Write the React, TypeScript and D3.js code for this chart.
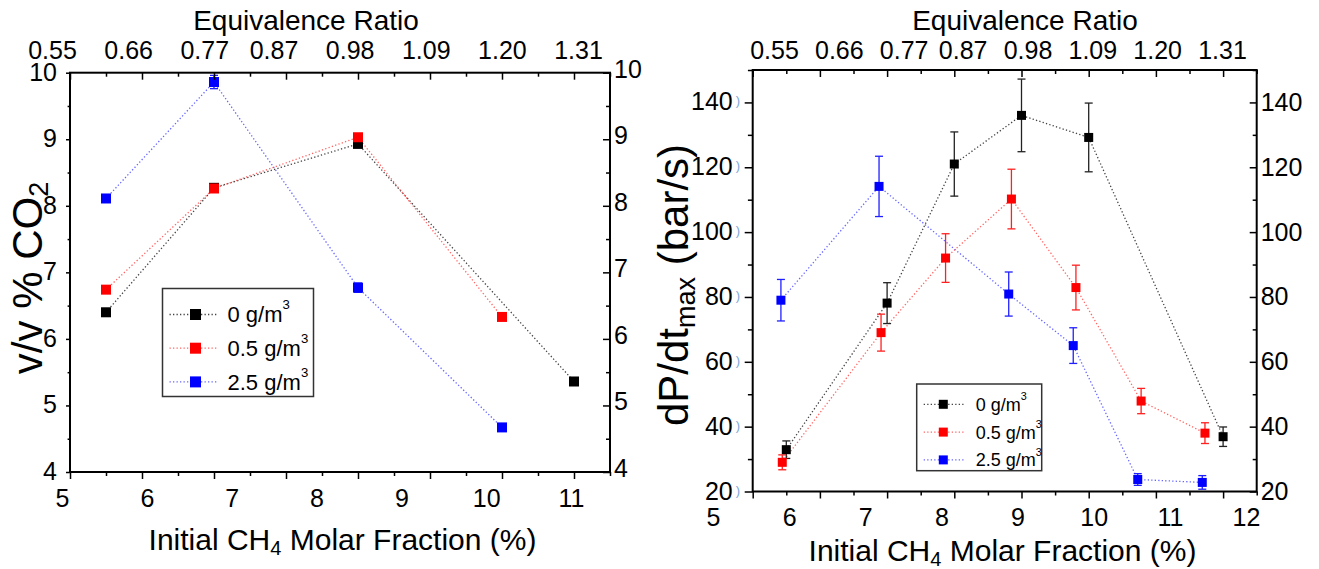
import React, { useEffect, useRef } from "react";
import * as d3 from "d3";

// ---------- data ----------
// x positions are in the tick-grid units of each panel (majors every 1, minors every 0.5)
const leftX_0 = [5.5, 7.0, 9.0, 12.0];
const leftCO2_0 = [6.40, 8.27, 8.93, 5.36];
const leftErr_0 = [0.02, 0.04, 0.03, 0.02];
const leftX_05 = [5.5, 7.0, 9.0, 11.0];
const leftCO2_05 = [6.74, 8.26, 9.03, 6.33];
const leftErr_05 = [0.02, 0.03, 0.04, 0.02];
const leftX_25 = [5.5, 7.0, 9.0, 11.0];
const leftCO2_25 = [8.11, 9.86, 6.77, 4.67];
const leftErr_25 = [0.03, 0.1, 0.07, 0.02];

const rightX_0 = [5.5, 7.0, 8.0, 9.0, 10.0, 12.0];
const rightP_0 = [32.9, 78.1, 121.0, 136.0, 129.2, 36.9];
const rightErr_0 = [2.7, 6.3, 9.9, 11.2, 10.6, 3.0];
const rightX_05 = [5.44, 6.91, 7.87, 8.85, 9.81, 10.78, 11.73];
const rightP_05 = [29.0, 69.0, 92.0, 110.2, 82.9, 47.9, 38.0];
const rightErr_05 = [2.3, 5.7, 7.5, 9.2, 6.9, 3.9, 3.2];
const rightX_25 = [5.42, 6.88, 8.81, 9.77, 10.73, 11.69];
const rightP_25 = [79.0, 114.1, 80.9, 65.0, 23.7, 22.8];
const rightErr_25 = [6.4, 9.3, 6.8, 5.5, 1.8, 2.1];

const seriesNames = ["0 g/m", "0.5 g/m", "2.5 g/m"];
const markerColors = ["#000000", "#ff0000", "#0000ff"];
const lineColors = ["#444444", "#ff6666", "#6666ff"];
const barColors = ["#222222", "#ff2020", "#2020ff"];

const bottomLabelsLeft = [5, 6, 7, 8, 9, 10, 11];
const bottomLabelsRight = [5, 6, 7, 8, 9, 10, 11, 12];
const phiLabels = [0.55, 0.66, 0.77, 0.87, 0.98, 1.09, 1.2, 1.31];
const leftYTicks = [4, 5, 6, 7, 8, 9, 10];
const rightYTicks = [20, 40, 60, 80, 100, 120, 140];

const FONT = "'Liberation Sans', Arial, Helvetica, sans-serif";

type Series = { x: number[]; y: number[]; e: number[] };

const leftSeries: Series[] = [
  { x: leftX_0, y: leftCO2_0, e: leftErr_0 },
  { x: leftX_05, y: leftCO2_05, e: leftErr_05 },
  { x: leftX_25, y: leftCO2_25, e: leftErr_25 },
];
const rightSeries: Series[] = [
  { x: rightX_0, y: rightP_0, e: rightErr_0 },
  { x: rightX_05, y: rightP_05, e: rightErr_05 },
  { x: rightX_25, y: rightP_25, e: rightErr_25 },
];

const panels = [
  {
    id: "L",
    x: d3.scaleLinear().domain([5, 12.5]).range([70, 610]),
    y: d3.scaleLinear().domain([4, 10]).range([472, 72.7]),
    xLab: d3.scaleLinear().domain([5, 11]).range([62, 571]),
    phi: d3.scaleLinear().domain([0.55, 1.31]).range([52, 578]),
    bottomLabels: bottomLabelsLeft,
    yTicks: leftYTicks,
    yMinor: d3.range(4.5, 10, 1),
    series: leftSeries,
    marker: 10,
    leftTick: 4,
    leftPad: 9,
    bottomLabelTop: 489,
    titleY: 550,
    legend: { x: 162.5, y: 288.5, w: 151, h: 108, row0: 26, rowGap: 33.7, fs: 22, mk: 11 },
    ylabelX: 42,
    ylabelY: 278,
  },
  {
    id: "R",
    x: d3.scaleLinear().domain([5, 12.5]).range([752.7, 1256.7]),
    y: d3.scaleLinear().domain([20, 150]).range([491.5, 70]),
    xLab: d3.scaleLinear().domain([5, 12]).range([713, 1246]),
    phi: d3.scaleLinear().domain([0.55, 1.31]).range([774, 1222]),
    bottomLabels: bottomLabelsRight,
    yTicks: rightYTicks,
    yMinor: d3.range(30, 151, 20),
    series: rightSeries,
    marker: 9,
    leftTick: 8,
    leftPad: 12,
    bottomLabelTop: 508,
    titleY: 561,
    legend: { x: 916.7, y: 384, w: 125, h: 86.7, row0: 20.3, rowGap: 27.8, fs: 18, mk: 9 },
    ylabelX: 688,
    ylabelY: 285,
  },
];

function drawAxes(svg: SVGSVGElement) {
  const root = d3.select(svg).select("g.axes");
  root.selectAll("*").remove();
  panels.forEach((p) => {
    const g = root.append("g");
    const [xl, xr] = p.x.range();
    const [yb, yt] = p.y.range();
    const major = d3.range(5, 12.01, 1);
    const minor = d3.range(5.5, 12.51, 1);
    const clean = (s: any) => {
      s.select(".domain").remove();
      s.selectAll("line").attr("stroke", "#000").attr("stroke-width", 1.5);
    };
    const styleText = (s: any) =>
      s.selectAll("text").attr("font-size", 25).attr("font-family", FONT).attr("fill", "#000");
    // bottom ticks (outward)
    g.append("g").attr("transform", `translate(0,${yb})`)
      .call(d3.axisBottom(p.x).tickValues(major).tickSize(7).tickFormat(() => "")).call(clean);
    g.append("g").attr("transform", `translate(0,${yb})`)
      .call(d3.axisBottom(p.x).tickValues(minor).tickSize(4).tickFormat(() => "")).call(clean);
    // top ticks (inward)
    g.append("g").attr("transform", `translate(0,${yt})`)
      .call(d3.axisBottom(p.x).tickValues(major).tickSize(7).tickFormat(() => "")).call(clean);
    g.append("g").attr("transform", `translate(0,${yt})`)
      .call(d3.axisBottom(p.x).tickValues(minor).tickSize(4).tickFormat(() => "")).call(clean);
    // bottom labels
    g.append("g").attr("transform", `translate(0,${p.bottomLabelTop})`)
      .call(d3.axisBottom(p.xLab).tickValues(p.bottomLabels).tickSize(0).tickPadding(0).tickFormat(d3.format("d")))
      .call((s: any) => { s.select(".domain").remove(); styleText(s); });
    // top labels (equivalence ratio)
    g.append("g").attr("transform", `translate(0,59)`)
      .call(d3.axisTop(p.phi).tickValues(phiLabels).tickSize(0).tickPadding(0).tickFormat(d3.format(".2f")))
      .call((s: any) => { s.select(".domain").remove(); styleText(s); });
    // left axis
    g.append("g").attr("transform", `translate(${xl},0)`)
      .call(d3.axisLeft(p.y).tickValues(p.yTicks).tickSize(p.leftTick).tickPadding(p.leftPad).tickFormat(d3.format("d")))
      .call(clean)
      .call((s: any) => styleText(s).attr("dy", "0.3em"));
    g.append("g").attr("transform", `translate(${xl},0)`)
      .call(d3.axisLeft(p.y).tickValues(p.yMinor).tickSize(p.leftTick * 0.6).tickFormat(() => "")).call(clean);
    // right axis (inward ticks, labels outside)
    g.append("g").attr("transform", `translate(${xr},0)`)
      .call(d3.axisRight(p.y).tickValues(p.yTicks).tickSize(-7).tickPadding(4).tickFormat(d3.format("d")))
      .call(clean)
      .call((s: any) => styleText(s).attr("dy", p.id === "L" ? "0.18em" : "0.32em"));
    g.append("g").attr("transform", `translate(${xr},0)`)
      .call(d3.axisRight(p.y).tickValues(p.yMinor).tickSize(-4).tickFormat(() => "")).call(clean);
  });
}

function Panel({ p }: { p: (typeof panels)[number] }) {
  const [xl, xr] = p.x.range();
  const [yb, yt] = p.y.range();
  const line = d3.line<[number, number]>().x((d) => p.x(d[0])).y((d) => p.y(d[1]));
  const L = p.legend;
  const h = p.marker / 2;
  return (
    <g>
      {p.series.map((s, i) => (
        <path key={"l" + i} d={line(s.x.map((v, k) => [v, s.y[k]]) as [number, number][]) || ""}
          fill="none" stroke={lineColors[i]} strokeWidth={1.3} strokeDasharray="1.3,2.2" />
      ))}
      {p.series.map((s, i) => (
        <g key={"e" + i} stroke={barColors[i]} strokeWidth={1.3}>
          {s.x.map((v, k) => (
            <g key={k}>
              <line x1={p.x(v)} x2={p.x(v)} y1={p.y(s.y[k] - s.e[k])} y2={p.y(s.y[k] + s.e[k])} />
              <line x1={p.x(v) - 4} x2={p.x(v) + 4} y1={p.y(s.y[k] - s.e[k])} y2={p.y(s.y[k] - s.e[k])} />
              <line x1={p.x(v) - 4} x2={p.x(v) + 4} y1={p.y(s.y[k] + s.e[k])} y2={p.y(s.y[k] + s.e[k])} />
            </g>
          ))}
        </g>
      ))}
      {p.series.map((s, i) => (
        <g key={"m" + i} fill={markerColors[i]}>
          {s.x.map((v, k) => (
            <rect key={k} x={p.x(v) - h} y={p.y(s.y[k]) - h} width={p.marker} height={p.marker} />
          ))}
        </g>
      ))}
      <rect x={xl} y={yt} width={xr - xl} height={yb - yt} fill="none" stroke="#000" strokeWidth={2} />
      {/* legend */}
      <g>
        <rect x={L.x} y={L.y} width={L.w} height={L.h} fill="#fff" stroke="#333" strokeWidth={1.5} />
        {seriesNames.map((n, i) => {
          const cy = L.y + L.row0 + i * L.rowGap;
          const lx = L.x + 7;
          const mx = L.x + (p.id === "L" ? 33 : 26.6);
          const lw = p.id === "L" ? 48 : 42;
          return (
            <g key={n}>
              <line x1={lx} x2={lx + lw} y1={cy} y2={cy} stroke={lineColors[i]} strokeWidth={1.3} strokeDasharray="1.3,2.2" />
              <rect x={mx - L.mk / 2} y={cy - L.mk / 2} width={L.mk} height={L.mk} fill={markerColors[i]} />
              <text x={lx + lw + 10} y={cy + L.fs * 0.36} fontSize={L.fs} fontFamily={FONT} fill="#000">
                {n}
                <tspan fontSize={L.fs * 0.6} dy={-L.fs * 0.6}>3</tspan>
              </text>
            </g>
          );
        })}
      </g>
      {/* titles */}
      <text x={(p.phi(0.55) + p.phi(1.31)) / 2 + (p.id === "L" ? -9 : 27)} y={30} textAnchor="middle" fontSize={28} fontFamily={FONT} fill="#000">
        Equivalence Ratio
      </text>
      <text x={(p.xLab.range()[0] + p.xLab.range()[1]) / 2 + (p.id === "L" ? 26 : 23)} y={p.titleY} textAnchor="middle" fontSize={30} fontFamily={FONT} fill="#000">
        Initial CH<tspan fontSize={20} dy={5}>4</tspan><tspan dy={-5}> Molar Fraction (%)</tspan>
      </text>
      {p.id === "L" ? (
        <text transform={`translate(${p.ylabelX},${p.ylabelY}) rotate(-90)`} textAnchor="middle" fontSize={42} fontFamily={FONT} fill="#000">
          v/v % CO<tspan fontSize={27} dy={6}>2</tspan>
        </text>
      ) : (
        <text transform={`translate(${p.ylabelX},${p.ylabelY}) rotate(-90)`} textAnchor="middle" fontSize={42} fontFamily={FONT} fill="#000">
          dP/dt<tspan fontSize={27} dy={7}>max</tspan><tspan dy={-7}> (bar/s)</tspan>
        </text>
      )}
      {p.id === "R" &&
        p.yTicks.map((t) => (
          <text key={t} x={xl - 17} y={p.y(t) + 3} fontSize={13} fontFamily={FONT} fill="#7aa4d8">)</text>
        ))}
    </g>
  );
}

export default function App() {
  const ref = useRef<SVGSVGElement>(null);
  useEffect(() => {
    if (ref.current) drawAxes(ref.current);
  }, []);
  return (
    <svg ref={ref} width={1319} height={569} style={{ position: "absolute", left: 0, top: 0, background: "#fff" }}>
      <rect width={1319} height={569} fill="#fff" />
      {panels.map((p) => (
        <Panel key={p.id} p={p} />
      ))}
      <g className="axes" />
    </svg>
  );
}
